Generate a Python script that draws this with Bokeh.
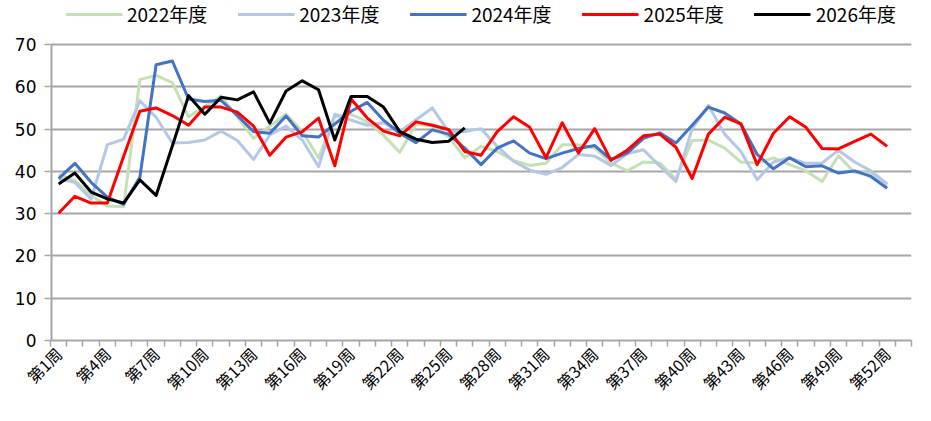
from math import pi
from bokeh.plotting import figure
from bokeh.models import Range1d, FixedTicker, Legend, LegendItem
from bokeh.embed import file_html
from bokeh.resources import INLINE

weeks = list(range(1, 53))
week_labels = [f"第{i}周" for i in weeks]
label_weeks = weeks[::3]

series_names = ["2022年度", "2023年度", "2024年度", "2025年度", "2026年度"]

y2022 = [39.3, 37.8, 34.3, 31.8, 31.6, 61.7, 62.7, 61.0, 52.9, 55.3,
         57.8, 52.9, 47.8, 50.7, 53.5, 49.4, 43.2, 52.9, 53.5, 51.7,
         48.5, 44.5, 51.2, 50.7, 48.2, 43.2, 45.9, 44.7, 42.6, 41.4,
         41.9, 46.3, 46.3, 45.5, 42.0, 40.1, 42.2, 42.0, 38.2, 47.3,
         47.4, 45.5, 42.2, 42.0, 43.2, 41.6, 40.1, 37.6, 43.7, 39.7,
         39.6, 36.8]
y2023 = [38.2, 37.4, 33.4, 46.3, 47.6, 56.7, 52.8, 46.7, 46.8, 47.4,
         49.5, 47.3, 42.8, 48.6, 50.7, 47.4, 41.1, 53.5, 52.1, 50.9,
         51.5, 49.4, 52.2, 55.0, 49.4, 49.4, 50.1, 45.9, 42.4, 40.3,
         39.3, 40.9, 44.0, 43.6, 41.4, 44.2, 45.1, 41.3, 37.6, 50.1,
         55.6, 48.8, 44.7, 38.0, 42.2, 43.2, 41.9, 42.0, 45.0, 42.2,
         40.1, 37.0]
y2024 = [38.3, 41.9, 37.4, 33.9, 32.2, 38.6, 65.2, 66.1, 57.1, 56.5,
         56.8, 53.2, 49.4, 49.0, 53.1, 48.4, 48.1, 51.2, 54.2, 56.3,
         52.1, 49.0, 46.8, 49.8, 48.8, 45.5, 41.6, 45.5, 47.2, 44.3,
         43.0, 44.3, 45.4, 46.1, 42.8, 44.3, 47.8, 49.1, 46.7, 50.9,
         55.2, 53.8, 51.2, 44.0, 40.6, 43.2, 41.1, 41.3, 39.6, 40.1,
         38.8, 36.0]
y2025 = [30.1, 34.1, 32.5, 32.5, 43.5, 54.2, 55.0, 53.2, 50.9, 55.2,
         55.2, 54.0, 50.7, 43.8, 48.1, 49.4, 52.6, 41.3, 57.1, 52.6,
         49.5, 48.4, 51.7, 50.9, 49.9, 44.7, 43.8, 49.4, 52.9, 50.4,
         43.2, 51.5, 44.3, 50.1, 42.6, 45.0, 48.4, 48.8, 45.7, 38.3,
         48.8, 52.8, 51.2, 41.6, 49.0, 52.9, 50.4, 45.4, 45.3, 47.1,
         48.8, 45.9]
y2026 = [37.0, 39.6, 35.1, 33.5, 32.5, 38.0, 34.3, 46.0, 57.9, 53.5,
         57.5, 56.9, 58.8, 51.4, 59.0, 61.4, 59.3, 47.4, 57.7, 57.7,
         55.2, 49.4, 47.6, 46.8, 47.1, 50.3]

y_ticks = [0, 10, 20, 30, 40, 50, 60, 70]

colors = ["#C5E0B4", "#B4C7E7", "#4472C4", "#FF0000", "#000000"]
all_series = [y2022, y2023, y2024, y2025, y2026]

x_start, x_end = 0.5, 53.5
y_top = 80.4  # head-room above 70 for the legend

p = figure(width=915, height=405, output_backend="svg", toolbar_location=None,
           x_range=Range1d(x_start, x_end), y_range=Range1d(0, y_top),
           min_border_left=50, min_border_right=4, min_border_top=0,
           min_border_bottom=60)
p.outline_line_color = None

# y axis line only up to the last tick
p.segment(x0=[x_start], y0=[y_ticks[0]], x1=[x_start], y1=[y_ticks[-1]],
          line_color="#A6A6A6", line_width=4)

items = []
for name, ys, c in zip(series_names, all_series, colors):
    r = p.line(weeks[:len(ys)], ys, line_color=c, line_width=3, line_join="round")
    items.append(LegendItem(label=name, renderers=[r]))

legend = Legend(items=items, orientation="horizontal", location="top_center",
                border_line_color=None, background_fill_alpha=0,
                label_text_font="Noto Sans CJK JP", label_text_font_size="19px",
                label_text_color="#000000",
                glyph_width=57, label_standoff=5, spacing=30, padding=2, margin=0)
p.add_layout(legend)

# x axis
p.xaxis.ticker = FixedTicker(ticks=label_weeks,
                             minor_ticks=[w - 0.5 for w in range(1, 55)])
p.xaxis.major_label_overrides = {w: week_labels[w - 1] for w in label_weeks}
p.xaxis.major_label_orientation = pi / 4
p.xaxis.major_label_text_font = "Noto Sans CJK JP"
p.xaxis.major_label_text_font_size = "16px"
p.xaxis.major_label_text_color = "#000000"
p.xaxis.major_tick_out = 0
p.xaxis.major_tick_in = 0
p.xaxis.minor_tick_out = 6
p.xaxis.minor_tick_in = 0
p.xaxis.minor_tick_line_color = "#A6A6A6"
p.xaxis.minor_tick_line_width = 1.5
p.xaxis.axis_line_color = "#A6A6A6"
p.xaxis.axis_line_width = 2
p.xaxis.major_label_standoff = 4

# y axis
p.yaxis.ticker = FixedTicker(ticks=y_ticks)
p.yaxis.major_label_text_font = "DejaVu Sans"
p.yaxis.major_label_text_font_size = "17px"
p.yaxis.major_label_text_color = "#000000"
p.yaxis.major_tick_out = 6
p.yaxis.major_tick_in = 0
p.yaxis.major_tick_line_color = "#A6A6A6"
p.yaxis.major_tick_line_width = 1.5
p.yaxis.axis_line_color = None
p.yaxis.major_label_standoff = 8

p.xgrid.grid_line_color = None
p.ygrid.grid_line_color = "#A6A6A6"
p.ygrid.grid_line_width = 2

open("out.html", "w").write(file_html(p, INLINE))
